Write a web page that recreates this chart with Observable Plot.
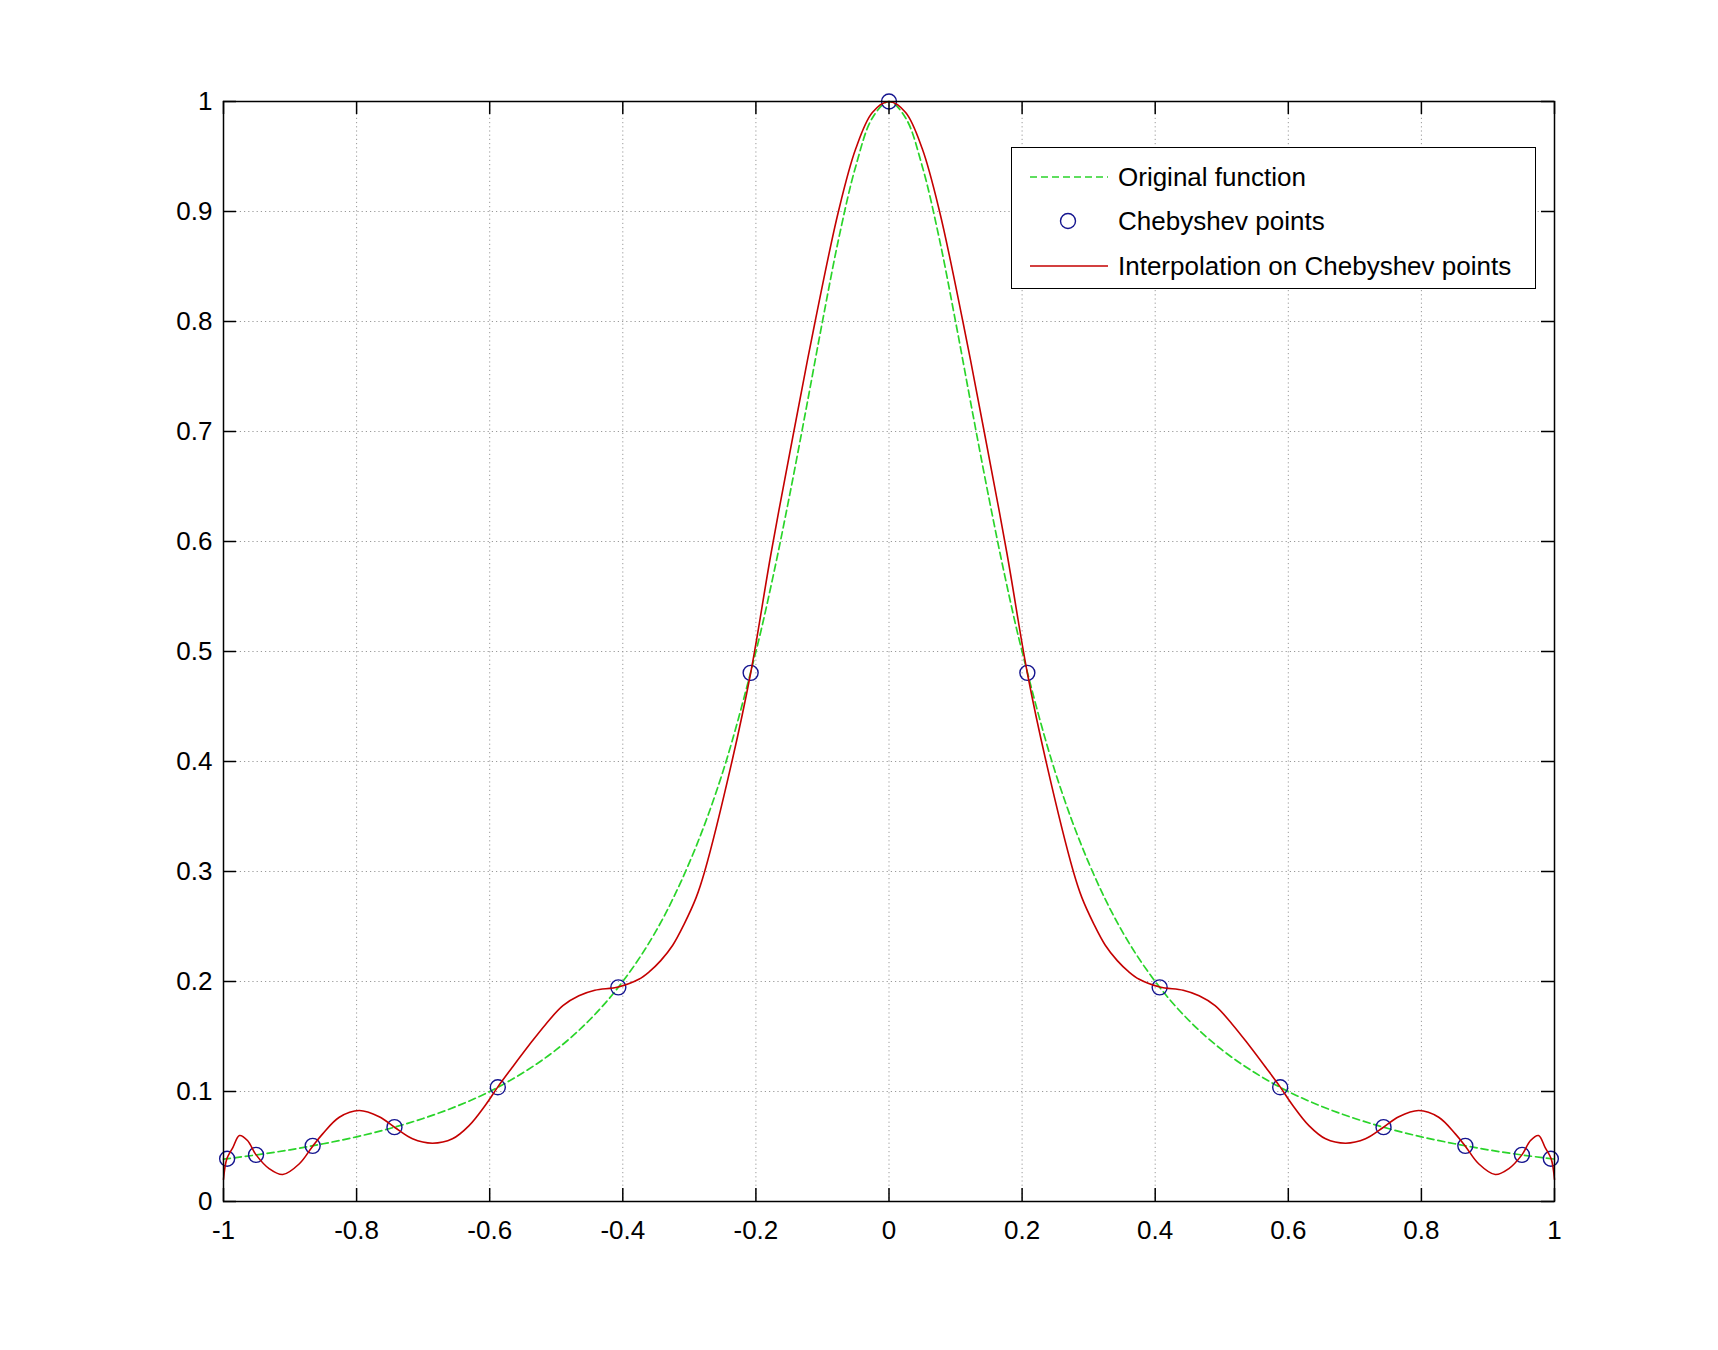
<!DOCTYPE html>
<html>
<head>
<meta charset="utf-8">
<script src="https://cdn.jsdelivr.net/npm/d3@7"></script>
<script src="https://cdn.jsdelivr.net/npm/@observablehq/plot@0.6"></script>
<style>
  html, body { margin: 0; padding: 0; background: white; }
  #wrap { position: relative; width: 1718px; height: 1350px; font-family: "Liberation Sans", Arial, sans-serif; }
  #legend { position: absolute; left: 1011px; top: 147px; width: 523px; height: 140px; border: 1.5px solid black; background: white; }
  #legend svg { position: absolute; left: 0; top: 0; }
</style>
</head>
<body>
<div id="wrap"><div id="chart"></div><div id="legend"></div></div>
<script>
// ---- data ----
const xTicks = [-1, -0.8, -0.6, -0.4, -0.2, 0, 0.2, 0.4, 0.6, 0.8, 1];
const yTicks = [0, 0.1, 0.2, 0.3, 0.4, 0.5, 0.6, 0.7, 0.8, 0.9, 1];

// Original function (green dashed)
const origX = [-1, -0.95, -0.9, -0.85, -0.8, -0.75, -0.7, -0.65, -0.6, -0.55, -0.5, -0.45, -0.4, -0.35, -0.3, -0.25, -0.2, -0.175, -0.15, -0.125, -0.1, -0.075, -0.05, -0.025,
  0, 0.025, 0.05, 0.075, 0.1, 0.125, 0.15, 0.175, 0.2, 0.25, 0.3, 0.35, 0.4, 0.45, 0.5, 0.55, 0.6, 0.65, 0.7, 0.75, 0.8, 0.85, 0.9, 0.95, 1];
const origY = [0.0385, 0.0424, 0.047, 0.0525, 0.0588, 0.0664, 0.0755, 0.0865, 0.1, 0.117, 0.138, 0.165, 0.2, 0.246, 0.308, 0.39, 0.5, 0.566, 0.64, 0.719, 0.8, 0.877, 0.941, 0.985,
  1, 0.985, 0.941, 0.877, 0.8, 0.719, 0.64, 0.566, 0.5, 0.39, 0.308, 0.246, 0.2, 0.165, 0.138, 0.117, 0.1, 0.0865, 0.0755, 0.0664, 0.0588, 0.0525, 0.047, 0.0424, 0.0385];

// Chebyshev points (blue circles)
const chebX = [-0.9945, -0.9511, -0.866, -0.7431, -0.5878, -0.4067, -0.2079, 0, 0.2079, 0.4067, 0.5878, 0.7431, 0.866, 0.9511, 0.9945];
const chebY = [0.0389, 0.0424, 0.0506, 0.0676, 0.1038, 0.1947, 0.4806, 1, 0.4806, 0.1947, 0.1038, 0.0676, 0.0506, 0.0424, 0.0389];

// Interpolation on Chebyshev points (red)
const interpX = [-1, -0.995, -0.986, -0.976, -0.964, -0.951, -0.931, -0.911, -0.886, -0.866, -0.851, -0.826, -0.796, -0.766, -0.743, -0.716, -0.686, -0.656, -0.631, -0.606, -0.588, -0.566, -0.541, -0.516, -0.49, -0.466, -0.442, -0.407, -0.376, -0.36, -0.343, -0.325, -0.308, -0.29, -0.277, -0.236, -0.208, -0.177, -0.143, -0.111, -0.076, -0.05, -0.025,
  0, 0.025, 0.05, 0.076, 0.111, 0.143, 0.177, 0.208, 0.236, 0.277, 0.29, 0.308, 0.325, 0.343, 0.36, 0.376, 0.407, 0.442, 0.466, 0.49, 0.516, 0.541, 0.566, 0.588, 0.606, 0.631, 0.656, 0.686, 0.716, 0.743, 0.766, 0.796, 0.826, 0.851, 0.866, 0.886, 0.911, 0.931, 0.951, 0.964, 0.976, 0.986, 0.995, 1];
const interpY = [0.02, 0.0388, 0.049, 0.06, 0.0555, 0.0424, 0.0297, 0.0245, 0.0343, 0.0503, 0.0615, 0.0766, 0.0827, 0.077, 0.0675, 0.057, 0.053, 0.057, 0.069, 0.088, 0.104, 0.122, 0.142, 0.161, 0.178, 0.187, 0.192, 0.195, 0.202, 0.209, 0.219, 0.233, 0.252, 0.276, 0.3, 0.4, 0.48, 0.59, 0.7, 0.8, 0.9, 0.957, 0.99,
  1, 0.99, 0.957, 0.9, 0.8, 0.7, 0.59, 0.48, 0.4, 0.3, 0.276, 0.252, 0.233, 0.219, 0.209, 0.202, 0.195, 0.192, 0.187, 0.178, 0.161, 0.142, 0.122, 0.104, 0.088, 0.069, 0.057, 0.053, 0.057, 0.0675, 0.077, 0.0827, 0.0766, 0.0615, 0.0503, 0.0343, 0.0245, 0.0297, 0.0424, 0.0555, 0.06, 0.049, 0.0388, 0.02];

const seriesNames = ["Original function", "Chebyshev points", "Interpolation on Chebyshev points"];

// ---- build tables ----
const orig = origX.map((x, i) => ({x, y: origY[i]}));
const cheb = chebX.map((x, i) => ({x, y: chebY[i]}));
const interp = interpX.map((x, i) => ({x, y: interpY[i]}));

const W = 1718, H = 1350;
const mL = 223, mR = 164, mT = 101, mB = 149;
const frameW = W - mL - mR, frameH = H - mT - mB;
const tickLen = 13;

const GREEN = "#2ad42a", BLUE = "#14148f", RED = "#c40000";
const fmt = d => `${d}`;

const chart = Plot.plot({
  width: W, height: H,
  marginLeft: mL, marginRight: mR, marginTop: mT, marginBottom: mB,
  x: {domain: [-1, 1]},
  y: {domain: [0, 1]},
  style: {fontFamily: "'Liberation Sans', Arial, sans-serif", fontSize: "26px", color: "black", background: "white"},
  marks: [
    Plot.gridX(xTicks, {stroke: "#999", strokeOpacity: 1, strokeWidth: 1, strokeDasharray: "1.2,3"}),
    Plot.gridY(yTicks, {stroke: "#999", strokeOpacity: 1, strokeWidth: 1, strokeDasharray: "1.2,3"}),
    Plot.line(orig, {x: "x", y: "y", stroke: GREEN, strokeWidth: 1.7, strokeDasharray: "7,4", curve: "catmull-rom"}),
    Plot.dot(cheb, {x: "x", y: "y", r: 7.5, stroke: BLUE, strokeWidth: 1.4, fill: "none"}),
    Plot.line(interp, {x: "x", y: "y", stroke: RED, strokeWidth: 1.6, curve: "catmull-rom"}),
    // inward ticks on all four sides
    Plot.tickX(xTicks, {x: d => d, insetTop: frameH - tickLen, stroke: "black", strokeWidth: 1.5}),
    Plot.tickX(xTicks, {x: d => d, insetBottom: frameH - tickLen, stroke: "black", strokeWidth: 1.5}),
    Plot.tickY(yTicks, {y: d => d, insetRight: frameW - tickLen, stroke: "black", strokeWidth: 1.5}),
    Plot.tickY(yTicks, {y: d => d, insetLeft: frameW - tickLen, stroke: "black", strokeWidth: 1.5}),
    Plot.frame({stroke: "black", strokeWidth: 1.5}),
    Plot.axisX(xTicks, {tickSize: 0, tickPadding: 19, fontSize: 26, tickFormat: fmt, label: null}),
    Plot.axisY(yTicks, {tickSize: 0, tickPadding: 11, fontSize: 26, tickFormat: fmt, label: null})
  ]
});
document.getElementById("chart").appendChild(chart);

// ---- legend (inside the plot area, top-right) ----
const lg = d3.select("#legend").append("svg").attr("width", 523).attr("height", 140)
  .style("font-family", "'Liberation Sans', Arial, sans-serif").style("font-size", "26px");
const rowsY = [29, 73, 118];
const row = lg.selectAll("g").data(seriesNames).join("g").attr("transform", (d, i) => `translate(0,${rowsY[i]})`);
row.filter((d, i) => i === 0).append("line").attr("x1", 18).attr("x2", 96).attr("stroke", GREEN).attr("stroke-width", 1.7).attr("stroke-dasharray", "7,4");
row.filter((d, i) => i === 1).append("circle").attr("cx", 56).attr("r", 7.5).attr("fill", "none").attr("stroke", BLUE).attr("stroke-width", 1.4);
row.filter((d, i) => i === 2).append("line").attr("x1", 18).attr("x2", 96).attr("stroke", RED).attr("stroke-width", 1.6);
row.append("text").attr("x", 106).attr("dy", "0.35em").attr("fill", "black").text(d => d);
</script>
</body>
</html>
